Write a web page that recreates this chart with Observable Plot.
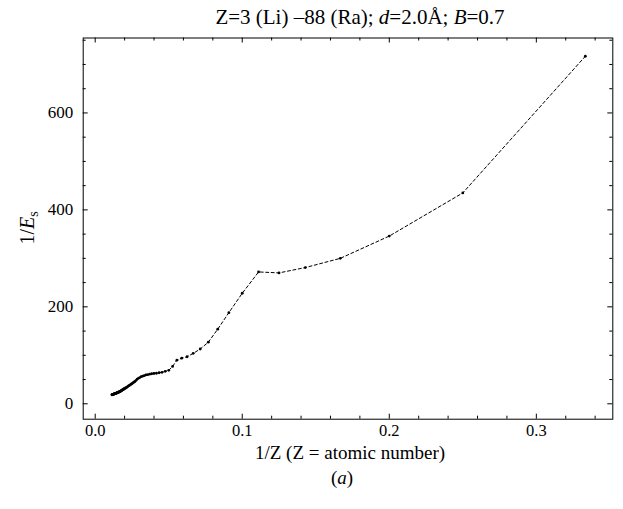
<!DOCTYPE html>
<html><head><meta charset="utf-8">
<script src="https://cdn.jsdelivr.net/npm/d3@7"></script>
<script src="https://cdn.jsdelivr.net/npm/@observablehq/plot@0.6"></script>
<style>body{margin:0;background:#fff} svg{display:block} svg text{font-family:'Liberation Serif','Times New Roman',serif !important}</style>
</head><body><div id="chart"></div>
<script>
// Atomic numbers Z = 3 (Li) ... 88 (Ra)
const atomicNumbers = [
  3,4,5,6,7,8,9,10,11,12,
  13,14,15,16,17,18,19,20,21,22,
  23,24,25,26,27,28,29,30,31,32,
  33,34,35,36,37,38,39,40,41,42,
  43,44,45,46,47,48,49,50,51,52,
  53,54,55,56,57,58,59,60,61,62,
  63,64,65,66,67,68,69,70,71,72,
  73,74,75,76,77,78,79,80,81,82,
  83,84,85,86,87,88
];
// 1/E_s
const inverseEs = [
  717,435,346,300,281,270,272,228,188,154,
  127,113,104,97,94,90,77,69,67,65,
  64,63,62.5,62,61,60,59.5,58,57,56,
  54,52.5,51,48.5,46,44.5,43,41.5,40.5,39,
  38,37,36,34.5,34,33,32,31.5,30.5,30,
  29,28.5,28,27,26.5,26,25.5,25,24.5,24.5,
  24,23.5,23.5,23,22.5,22.5,22,22,21.5,21.5,
  21,21,21,20.5,20.5,20,20,20,19.5,19.5,
  19.5,19,19,19,18.5,18.5
];
const xMajorTicks = [0, 0.1, 0.2, 0.3];
const xMinorTicks = [0.02,0.04,0.06,0.08,0.12,0.14,0.16,0.18,0.22,0.24,0.26,0.28,0.32,0.34];
const yMajorTicks = [0, 200, 400, 600];
const yMinorTicks = [50,100,150,250,300,350,450,500,550,650,700,750];

const W = 623, H = 509;
const mt = 37.5, mb = 90.3, ml = 82.7, mr = 10.7;
const innerH = H - mt - mb, innerW = W - ml - mr;
const serif = "'Liberation Serif','Times New Roman',serif";

const data = atomicNumbers.map((z, i) => ({x: 1 / z, y: inverseEs[i]}));

const plot = Plot.plot({
  width: W, height: H,
  marginTop: mt, marginBottom: mb, marginLeft: ml, marginRight: mr,
  style: {fontFamily: serif, fontSize: "17px", color: "#000", background: "#fff"},
  x: {domain: [-0.00816, 0.352], label: null},
  y: {domain: [-31.8, 754.6], label: null},
  marks: [
    Plot.frame({stroke: "#000", strokeWidth: 1}),
    Plot.axisX(xMajorTicks, {tickSize: 0, tickPadding: 5, tickFormat: d3.format(".1f"), fontSize: 16.5, fontFamily: serif, label: null}),
    Plot.axisY(yMajorTicks, {tickSize: 0, tickPadding: 10, tickFormat: d3.format("d"), fontSize: 17, fontFamily: serif, label: null}),
    Plot.tickX(xMajorTicks, {x: d => d, insetTop: innerH - 5, stroke: "#000"}),
    Plot.tickX(xMajorTicks, {x: d => d, insetBottom: innerH - 5, stroke: "#000"}),
    Plot.tickX(xMinorTicks, {x: d => d, insetTop: innerH - 3, stroke: "#000"}),
    Plot.tickX(xMinorTicks, {x: d => d, insetBottom: innerH - 3, stroke: "#000"}),
    Plot.tickY(yMajorTicks, {y: d => d, insetRight: innerW - 5, stroke: "#000"}),
    Plot.tickY(yMajorTicks, {y: d => d, insetLeft: innerW - 5, stroke: "#000"}),
    Plot.tickY(yMinorTicks, {y: d => d, insetRight: innerW - 3, stroke: "#000"}),
    Plot.tickY(yMinorTicks, {y: d => d, insetLeft: innerW - 3, stroke: "#000"}),
    Plot.line(data, {x: "x", y: "y", stroke: "#000", strokeWidth: 1, strokeDasharray: "3,2.5"}),
    Plot.dot(data, {x: "x", y: "y", r: 1.4, fill: "#000", stroke: null})
  ]
});

const svg = d3.select(plot);
// Title
const title = svg.append("text")
  .attr("x", 360).attr("y", 24)
  .attr("text-anchor", "middle")
  .style("font-size", "21px").attr("fill", "#000");
title.append("tspan").text("Z=3 (Li) –88 (Ra); ");
title.append("tspan").style("font-style", "italic").text("d");
title.append("tspan").text("=2.0Å; ");
title.append("tspan").style("font-style", "italic").text("B");
title.append("tspan").text("=0.7");

// Y label
const ylab = svg.append("text")
  .attr("transform", "translate(34,228) rotate(-90)")
  .attr("text-anchor", "middle")
  .style("font-size", "20px").attr("fill", "#000");
ylab.append("tspan").text("1/");
ylab.append("tspan").style("font-style", "italic").text("E");
ylab.append("tspan").attr("dy", 4).style("font-size", "14px").text("s");

// X label
svg.append("text")
  .attr("x", 350).attr("y", 459)
  .attr("text-anchor", "middle")
  .style("font-size", "19px").attr("fill", "#000")
  .text("1/Z (Z = atomic number)");

// Panel label
const pl = svg.append("text")
  .attr("x", 342).attr("y", 484)
  .attr("text-anchor", "middle")
  .style("font-size", "19px").attr("fill", "#000");
pl.append("tspan").text("(");
pl.append("tspan").style("font-style", "italic").text("a");
pl.append("tspan").text(")");

svg.selectAll("text").style("font-family", serif);

document.getElementById("chart").appendChild(plot);
</script>
</body></html>
